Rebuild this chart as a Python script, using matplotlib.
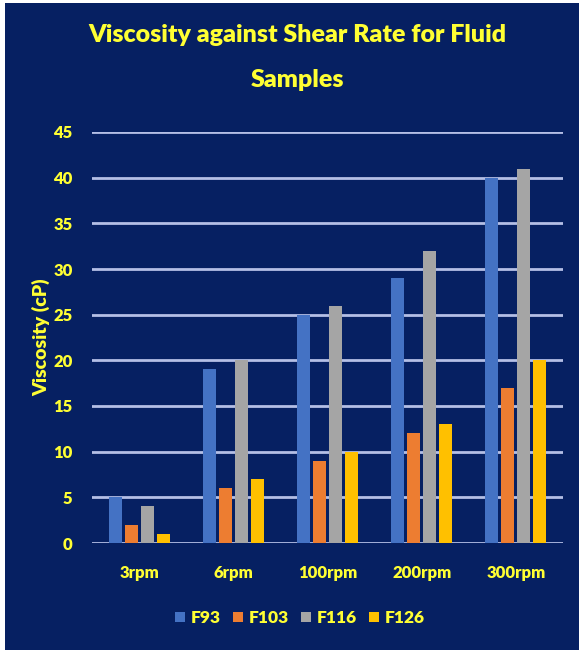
import numpy as np
import matplotlib.pyplot as plt
from matplotlib.patches import Rectangle

categories = ['3rpm', '6rpm', '100rpm', '200rpm', '300rpm']
f93 = [5, 19, 25, 29, 40]
f103 = [2, 6, 9, 12, 17]
f116 = [4, 20, 26, 32, 41]
f126 = [1, 7, 10, 13, 20]
series = [('F93', f93, '#4472C4'), ('F103', f103, '#ED7D31'),
          ('F116', f116, '#A5A5A5'), ('F126', f126, '#FFC000')]

navy = '#062062'
yellow = '#FFFF33'
grid = '#B4BFE6'
fnt = ['Lato', 'DejaVu Sans']

fig = plt.figure(figsize=(5.79, 6.5), dpi=100, facecolor='white')
fig.patches.append(Rectangle((5/579, 0), 1, 1 - 3/650, transform=fig.transFigure,
                             facecolor=navy, edgecolor='none', zorder=-10))

ax = fig.add_axes([92/579, 1 - 543/650, 471/579, 411/650])
ax.set_facecolor(navy)

x = np.arange(len(categories))
step = 0.17
w = 0.138
for i, (name, vals, col) in enumerate(series):
    ax.bar(x + (i - 1.5) * step, vals, w, color=col, label=name, zorder=3)

ax.set_xlim(-0.5, len(categories) - 0.5)
ax.set_ylim(0, 45)
ax.set_yticks(range(0, 46, 5))
ax.yaxis.grid(True, color=grid, linewidth=2)
ax.set_axisbelow(True)
for s in ax.spines.values():
    s.set_visible(False)
ax.tick_params(length=0, colors=yellow, labelsize=12)
ax.tick_params(axis='y', pad=14)
ax.tick_params(axis='x', pad=16)
ax.set_xticks(x)
ax.set_xticklabels(categories)
for lab in ax.get_xticklabels() + ax.get_yticklabels():
    lab.set_fontweight('heavy')
    lab.set_family(fnt)

ax.set_ylabel('Viscosity (cP)', color=yellow, fontsize=14, fontweight='heavy',
              family=fnt, labelpad=2)
ax.yaxis.set_label_coords(-0.088, 0.5)

fig.text(297/579, 1 - 42/650, 'Viscosity against Shear Rate for Fluid',
         ha='center', va='baseline', color=yellow, fontsize=18, fontweight='heavy',
         family=fnt)
fig.text(297/579, 1 - 87/650, 'Samples',
         ha='center', va='baseline', color=yellow, fontsize=18, fontweight='heavy',
         family=fnt)

leg = ax.legend(loc='center', bbox_to_anchor=(300/579, 1 - 618/650),
                bbox_transform=fig.transFigure, ncol=4, frameon=False,
                handlelength=0.55, handleheight=0.55, handletextpad=0.35, columnspacing=0.7,
                prop={'family': fnt, 'weight': 'heavy', 'size': 12.5})
for t in leg.get_texts():
    t.set_color(yellow)

fig.savefig('out.png', dpi=100, facecolor=fig.get_facecolor())
